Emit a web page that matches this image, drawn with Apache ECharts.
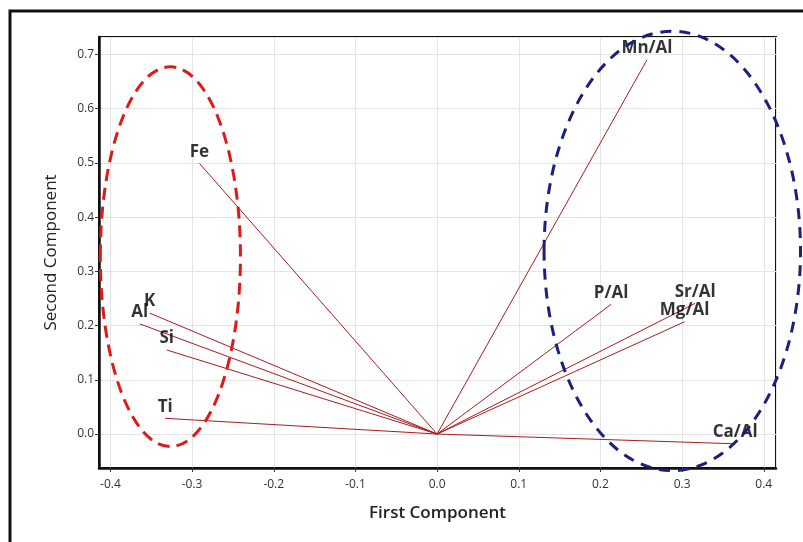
<!DOCTYPE html>
<html>
<head>
<meta charset="utf-8">
<script src="https://cdn.jsdelivr.net/npm/echarts@6/dist/echarts.min.js"></script>
<style>
html,body{margin:0;padding:0;background:#fff;}
#main{width:803px;height:542px;}
</style>
</head>
<body>
<div id="main"></div>
<script>
// Loadings (first component, second component)
const variables = ['Fe', 'Mn/Al', 'K', 'Al', 'Si', 'Ti', 'P/Al', 'Sr/Al', 'Mg/Al', 'Ca/Al'];
const pc1 = [-0.291, 0.257, -0.352, -0.364, -0.331, -0.333, 0.213, 0.316, 0.303, 0.365];
const pc2 = [0.499, 0.690, 0.223, 0.203, 0.155, 0.029, 0.239, 0.241, 0.207, -0.018];

// Group ellipses: centre x, centre y, radius x, radius y (data units)
const ellipseCx = [-0.3266, 0.288];
const ellipseCy = [0.327, 0.3376];
const ellipseRx = [0.0858, 0.157];
const ellipseRy = [0.350, 0.405];
const ellipseColors = ['#dd1a1a', '#1b1f7e'];

const xTitle = 'First Component';
const yTitle = 'Second Component';

const chart = echarts.init(document.getElementById('main'), null, {renderer: 'canvas'});
const lineColor = '#a81c1c';
const fontFamily = '"Open Sans", "Noto Sans", sans-serif';

const series = [];
variables.forEach((v, i) => {
  series.push({
    type: 'line',
    data: [[0, 0], [pc1[i], pc2[i]]],
    symbol: 'none',
    silent: true,
    lineStyle: {color: lineColor, width: 1},
    z: 3
  });
});
series.push({
  type: 'scatter',
  data: variables.map((n, i) => ({name: n, value: [pc1[i], pc2[i]]})),
  symbolSize: 0,
  silent: true,
  label: {
    show: true,
    position: 'top',
    distance: 3,
    formatter: '{b}',
    fontFamily: fontFamily,
    fontWeight: 'bold',
    fontSize: 17,
    color: '#000'
  },
  z: 5
});
series.push({
  type: 'custom',
  clip: false,
  silent: true,
  data: ellipseCx.map((c, i) => [c, ellipseCy[i], ellipseRx[i], ellipseRy[i], i]),
  renderItem: function (params, api) {
    const c = api.coord([api.value(0), api.value(1)]);
    const s = api.size([api.value(2), api.value(3)]);
    const idx = api.value(4);
    return {
      type: 'ellipse',
      shape: {cx: c[0], cy: c[1], rx: s[0], ry: s[1]},
      style: {
        fill: 'none',
        stroke: ellipseColors[idx],
        lineWidth: 3,
        lineDash: idx === 0 ? [12, 7] : [11, 8]
      }
    };
  },
  z: 6
});

chart.setOption({
  animation: false,
  backgroundColor: '#fff',
  grid: {
    left: 99, top: 37, width: 677, height: 431,
    show: true, borderColor: '#111', borderWidth: 2, backgroundColor: 'transparent'
  },
  xAxis: {
    type: 'value',
    min: -0.414, max: 0.415,
    minInterval: 0.1, maxInterval: 0.1, splitNumber: 8,
    name: xTitle,
    nameLocation: 'middle',
    nameGap: 37,
    nameTextStyle: {fontFamily: fontFamily, fontSize: 17, fontWeight: 600, color: '#222'},
    axisLine: {onZero: false, lineStyle: {color: '#111', width: 2.5}},
    axisTick: {show: true, length: 4, lineStyle: {color: '#333'}},
    axisLabel: {
      showMinLabel: false, showMaxLabel: false,
      margin: 11,
      fontFamily: fontFamily, fontSize: 12, color: '#333',
      formatter: v => v.toFixed(1)
    },
    splitLine: {show: true, lineStyle: {color: '#e4e4e4', width: 1}}
  },
  yAxis: {
    type: 'value',
    min: -0.0626, max: 0.732,
    minInterval: 0.1, maxInterval: 0.1, splitNumber: 8,
    name: yTitle,
    nameLocation: 'middle',
    nameGap: 39,
    nameRotate: 90,
    nameTextStyle: {fontFamily: fontFamily, fontSize: 17, color: '#222'},
    axisLine: {onZero: false, lineStyle: {color: '#111', width: 2.5}},
    axisTick: {show: true, length: 4, lineStyle: {color: '#333'}},
    axisLabel: {
      showMinLabel: false, showMaxLabel: false,
      margin: 5,
      fontFamily: fontFamily, fontSize: 12, color: '#333',
      formatter: v => v.toFixed(1)
    },
    splitLine: {show: true, lineStyle: {color: '#e4e4e4', width: 1}}
  },
  graphic: [{
    type: 'rect',
    shape: {x: 10, y: 11, width: 900, height: 700},
    style: {fill: 'none', stroke: '#111', lineWidth: 3},
    silent: true,
    z: 100
  }],
  series: series
});
</script>
</body>
</html>
